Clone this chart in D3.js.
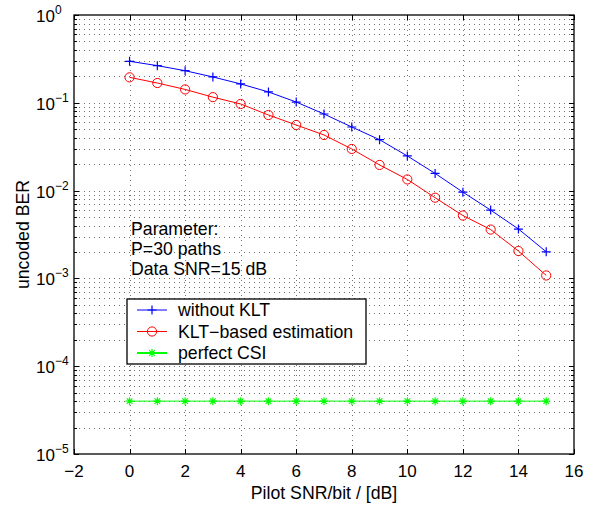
<!DOCTYPE html>
<html>
<head>
<meta charset="utf-8">
<script src="https://cdn.jsdelivr.net/npm/d3@7"></script>
<style>
  body { margin: 0; background: #fff; }
  text { font-family: "Liberation Sans", Arial, Helvetica, sans-serif; }
</style>
</head>
<body>
<div id="chart"></div>
<script>
width = 594
height = 505
margin = ({ top: 15, right: 20, bottom: 51, left: 74 })

// data
var snr = [0, 1, 2, 3, 4, 5, 6, 7, 8, 9, 10, 11, 12, 13, 14, 15]
var berNoKlt = [0.297, 0.265, 0.232, 0.197, 0.164, 0.133, 0.102, 0.0745, 0.053, 0.038, 0.0248, 0.0157, 0.0096, 0.0060, 0.00365, 0.00201]
var berKlt = [0.195, 0.168, 0.142, 0.116, 0.097, 0.0726, 0.0559, 0.043, 0.0298, 0.0196, 0.0134, 0.0083, 0.0052, 0.0036, 0.00205, 0.00108]
var berPerfect = [4e-5, 4e-5, 4e-5, 4e-5, 4e-5, 4e-5, 4e-5, 4e-5, 4e-5, 4e-5, 4e-5, 4e-5, 4e-5, 4e-5, 4e-5, 4e-5]
var xTicks = [-2, 0, 2, 4, 6, 8, 10, 12, 14, 16]
var yExps = [0, -1, -2, -3, -4, -5]
var seriesNames = ["without KLT", "KLT\u2212based estimation", "perfect CSI"]
var noteLines = ["Parameter:", "P=30 paths", "Data SNR=15 dB"]

var fs = "17.7px"

const svg = d3.select("#chart")
    .append("svg")
    .attr("width", width)
    .attr("height", height);

var x = d3.scaleLinear()
    .domain([-2, 16])
    .range([margin.left, width - margin.right]);

var y = d3.scaleLog()
    .domain([1e-5, 1])
    .range([height - margin.bottom, margin.top]);

var x0 = x.range()[0], x1 = x.range()[1]
var y0 = y.range()[0], y1 = y.range()[1]

// minor + major y positions
var yMinor = []
yExps.slice(1).forEach(e => {
    for (var k = 2; k <= 9; k++) yMinor.push(k * Math.pow(10, e))
})
var yMajor = yExps.map(e => Math.pow(10, e))

// grid (dotted, matlab style)
var grid = svg.append("g")
    .attr("stroke", "#000")
    .attr("stroke-width", 1)
    .attr("stroke-dasharray", "1,4")
    .attr("opacity", 0.55);

grid.selectAll(".gx")
    .data(xTicks.slice(1, -1))
    .join("line")
    .attr("x1", d => Math.round(x(d)) + 0.5)
    .attr("x2", d => Math.round(x(d)) + 0.5)
    .attr("y1", y1)
    .attr("y2", y0);

grid.selectAll(".gy")
    .data(yMajor.concat(yMinor).filter(d => d < 1 && d > 1e-5))
    .join("line")
    .attr("x1", x0)
    .attr("x2", x1)
    .attr("y1", d => Math.round(y(d)) + 0.5)
    .attr("y2", d => Math.round(y(d)) + 0.5);

// box
svg.append("rect")
    .attr("x", x0)
    .attr("y", y1)
    .attr("width", x1 - x0)
    .attr("height", y0 - y1)
    .attr("fill", "none")
    .attr("stroke", "#000")
    .attr("stroke-width", 1.3);

// ticks inside, on all four sides
var ticks = svg.append("g").attr("stroke", "#000").attr("stroke-width", 1);
xTicks.forEach(d => {
    var px = Math.round(x(d)) + 0.5
    ticks.append("line").attr("x1", px).attr("x2", px).attr("y1", y0).attr("y2", y0 - 5)
    ticks.append("line").attr("x1", px).attr("x2", px).attr("y1", y1).attr("y2", y1 + 5)
});
yMajor.forEach(d => {
    var py = Math.round(y(d)) + 0.5
    ticks.append("line").attr("x1", x0).attr("x2", x0 + 5).attr("y1", py).attr("y2", py)
    ticks.append("line").attr("x1", x1).attr("x2", x1 - 5).attr("y1", py).attr("y2", py)
});
yMinor.forEach(d => {
    var py = Math.round(y(d)) + 0.5
    ticks.append("line").attr("x1", x0).attr("x2", x0 + 3).attr("y1", py).attr("y2", py)
    ticks.append("line").attr("x1", x1).attr("x2", x1 - 3).attr("y1", py).attr("y2", py)
});

// tick labels
svg.append("g").selectAll("text")
    .data(xTicks)
    .join("text")
    .attr("x", d => x(d))
    .attr("y", y0 + 23)
    .attr("text-anchor", "middle")
    .style("font-size", "17px")
    .text(d => d < 0 ? "\u2212" + Math.abs(d) : d);

var yl = svg.append("g").selectAll("text")
    .data(yExps)
    .join("text")
    .attr("x", 36)
    .attr("y", d => y(Math.pow(10, d)) + 7)
    .style("font-size", "17px");
yl.append("tspan").text("10");
yl.append("tspan")
    .attr("dy", -8)
    .style("font-size", "12px")
    .text(d => d < 0 ? "\u2212" + Math.abs(d) : d);

// axis labels
svg.append("text")
    .attr("x", (x0 + x1) / 2)
    .attr("y", 499)
    .attr("text-anchor", "middle")
    .style("font-size", fs)
    .text("Pilot SNR/bit / [dB]");

svg.append("text")
    .attr("transform", "translate(29," + ((y0 + y1) / 2) + ") rotate(-90)")
    .attr("text-anchor", "middle")
    .style("font-size", fs)
    .text("uncoded BER");

// lines
var line = d3.line()
    .x((d, i) => x(snr[i]))
    .y(d => y(d));

var colors = ["#0000ff", "#ff0000", "#00ff00"]
var allSeries = [berNoKlt, berKlt, berPerfect]

svg.selectAll(".series")
    .data(allSeries)
    .join("path")
    .attr("fill", "none")
    .attr("stroke", (d, i) => colors[i])
    .attr("stroke-width", 1)
    .attr("d", d => line(d));

function marker(g, kind, cx, cy, col) {
    if (kind == 0) {
        g.append("path")
            .attr("d", "M" + (cx - 4.5) + "," + cy + "H" + (cx + 4.5) + "M" + cx + "," + (cy - 4.5) + "V" + (cy + 4.5))
            .attr("stroke", col).attr("stroke-width", 1.2).attr("fill", "none")
    } else if (kind == 1) {
        g.append("circle")
            .attr("cx", cx).attr("cy", cy).attr("r", 4.6)
            .attr("stroke", col).attr("stroke-width", 1).attr("fill", "none")
    } else {
        var r = 4, s = r * 0.7
        g.append("path")
            .attr("d", "M" + (cx - r) + "," + cy + "H" + (cx + r) +
                "M" + cx + "," + (cy - r) + "V" + (cy + r) +
                "M" + (cx - s) + "," + (cy - s) + "L" + (cx + s) + "," + (cy + s) +
                "M" + (cx - s) + "," + (cy + s) + "L" + (cx + s) + "," + (cy - s))
            .attr("stroke", col).attr("stroke-width", 1.2).attr("fill", "none")
    }
}

var marks = svg.append("g")
allSeries.forEach((s, k) => {
    s.forEach((v, i) => marker(marks, k, x(snr[i]), y(v), colors[k]))
});

// parameter note
svg.append("g").selectAll("text")
    .data(noteLines)
    .join("text")
    .attr("x", 131)
    .attr("y", (d, i) => 235 + 20 * i)
    .style("font-size", fs)
    .text(d => d);

// legend
var lg = svg.append("g").attr("transform", "translate(127,299)")
lg.append("rect")
    .attr("width", 239)
    .attr("height", 65)
    .attr("fill", "#fff")
    .attr("stroke", "#000")
    .attr("stroke-width", 1.3);

seriesNames.forEach((d, i) => {
    var ly = 11 + 21.5 * i
    lg.append("line")
        .attr("x1", 10).attr("x2", 40)
        .attr("y1", ly).attr("y2", ly)
        .attr("stroke", colors[i])
        .attr("stroke-width", i == 2 ? 2 : 1)
    marker(lg, i, 25, ly, colors[i])
    lg.append("text")
        .attr("x", 51)
        .attr("y", ly + 6)
        .style("font-size", fs)
        .text(d)
});
</script>
</body>
</html>
